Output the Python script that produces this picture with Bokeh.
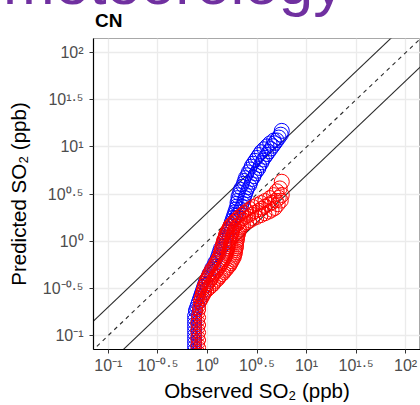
from bokeh.plotting import figure
from bokeh.models import FixedTicker, Range1d, ColumnDataSource, Div
from bokeh.layouts import column
from bokeh.embed import file_html
from bokeh.resources import INLINE

# ---------------- data (log10 ppb) ----------------
tick_exps = [-1, -0.5, 0, 0.5, 1, 1.5, 2]
tick_exp_labels = ["-1", "-0.5", "0", "0.5", "1", "1.5", "2"]
axis_lim_exp = [-1.15, 2.15]
ref_ratios = [2.0, 1.0, 0.5]          # predicted = ratio * observed
ref_dashes = ["solid", "4 4", "solid"]

title_text = "CN"
x_title = "Observed SO₂ (ppb)"
y_title = "Predicted SO₂ (ppb)"
banner_text = "meteorology"

# blue series: (log10 observed, log10 predicted)
blue_points = [
    (-0.15, -1.19), (-0.11, -1.17), (-0.15, -1.15), (-0.11, -1.13), (-0.15, -1.11), (-0.11, -1.09),
    (-0.15, -1.07), (-0.11, -1.05), (-0.15, -1.03), (-0.11, -1.01), (-0.15, -0.99), (-0.11, -0.97),
    (-0.15, -0.95), (-0.11, -0.93), (-0.15, -0.91), (-0.11, -0.89), (-0.15, -0.87), (-0.11, -0.85),
    (-0.15, -0.83), (-0.11, -0.81), (-0.15, -0.79), (-0.11, -0.77), (-0.14, -0.75),
    (-0.14, -0.73), (-0.10, -0.73), (-0.13, -0.70), (-0.12, -0.67), (-0.08, -0.67), (-0.11, -0.64),
    (-0.10, -0.61), (-0.06, -0.61), (-0.09, -0.58), (-0.08, -0.55), (-0.04, -0.55), (-0.07, -0.52),
    (-0.06, -0.49), (-0.02, -0.49), (-0.05, -0.46), (-0.04, -0.43), (0.00, -0.43), (-0.02, -0.40),
    (-0.01, -0.37), (0.03, -0.37), (0.00, -0.34), (0.02, -0.31), (0.05, -0.31), (0.03, -0.28),
    (0.05, -0.25), (0.08, -0.25), (0.06, -0.22), (0.08, -0.19), (0.10, -0.19), (0.09, -0.16),
    (0.10, -0.13), (0.13, -0.13), (0.11, -0.10), (0.12, -0.07), (0.15, -0.07), (0.14, -0.04),
    (0.15, -0.01), (0.18, -0.01), (0.16, 0.02), (0.17, 0.05), (0.21, 0.05), (0.19, 0.08),
    (0.20, 0.11), (0.23, 0.11), (0.21, 0.14), (0.22, 0.17), (0.25, 0.17), (0.23, 0.20),
    (0.24, 0.23), (0.27, 0.23), (0.25, 0.26), (0.29, 0.26), (0.26, 0.29), (0.30, 0.29),
    (0.27, 0.32), (0.32, 0.32), (0.28, 0.35), (0.33, 0.35), (0.29, 0.38), (0.35, 0.38),
    (0.29, 0.41), (0.36, 0.41), (0.30, 0.44), (0.37, 0.44), (0.30, 0.47), (0.38, 0.47),
    (0.31, 0.50), (0.39, 0.50), (0.32, 0.53), (0.40, 0.53), (0.33, 0.56), (0.41, 0.56),
    (0.35, 0.59), (0.43, 0.59), (0.36, 0.62), (0.44, 0.62), (0.37, 0.65), (0.45, 0.65),
    (0.38, 0.68), (0.47, 0.68), (0.40, 0.71), (0.48, 0.71), (0.41, 0.74), (0.50, 0.74),
    (0.43, 0.77), (0.52, 0.77), (0.44, 0.80), (0.53, 0.80), (0.46, 0.83), (0.55, 0.83),
    (0.48, 0.86), (0.56, 0.86), (0.50, 0.89), (0.58, 0.89), (0.52, 0.92), (0.60, 0.92),
    (0.54, 0.95), (0.62, 0.95), (0.57, 0.98), (0.64, 0.98), (0.60, 1.01), (0.66, 1.01),
    (0.63, 1.04), (0.68, 1.04), (0.67, 1.07), (0.70, 1.07), (0.72, 1.10), (0.74, 1.13),
    (0.75, 1.17),
]

# red series: (log10 observed, log10 predicted)
red_points = [
    (-0.12, -1.19), (-0.08, -1.17), (-0.11, -1.15), (-0.07, -1.13), (-0.12, -1.11), (-0.08, -1.09),
    (-0.11, -1.07), (-0.07, -1.05), (-0.12, -1.03), (-0.08, -1.01), (-0.11, -0.99), (-0.07, -0.97),
    (-0.12, -0.95), (-0.08, -0.93), (-0.11, -0.91), (-0.07, -0.89), (-0.12, -0.87), (-0.08, -0.85),
    (-0.11, -0.83), (-0.07, -0.81), (-0.11, -0.79), (-0.08, -0.77), (-0.10, -0.75), (-0.07, -0.73),
    (-0.10, -0.71), (-0.07, -0.69), (-0.09, -0.67), (-0.06, -0.65),
    (-0.09, -0.63), (-0.05, -0.63), (-0.08, -0.61), (-0.04, -0.61), (-0.08, -0.59), (-0.03, -0.59),
    (-0.07, -0.57), (-0.02, -0.57), (-0.07, -0.55), (-0.01, -0.55), (-0.06, -0.53), (0.01, -0.53),
    (-0.06, -0.51), (0.03, -0.51),
    (-0.05, -0.49), (0.00, -0.49), (0.05, -0.49), (-0.05, -0.47), (0.01, -0.47), (0.07, -0.47),
    (-0.04, -0.45), (0.02, -0.45), (0.08, -0.45), (-0.03, -0.43), (0.04, -0.43), (0.10, -0.43),
    (-0.03, -0.41), (0.05, -0.41), (0.12, -0.41), (-0.02, -0.39), (0.06, -0.39), (0.13, -0.39),
    (-0.01, -0.37), (0.07, -0.37), (0.15, -0.37), (0.00, -0.35), (0.08, -0.35), (0.17, -0.35),
    (0.01, -0.33), (0.10, -0.33), (0.18, -0.33), (0.02, -0.31), (0.11, -0.31), (0.20, -0.31),
    (0.03, -0.29), (0.12, -0.29), (0.21, -0.29), (0.05, -0.27), (0.14, -0.27), (0.23, -0.27),
    (0.06, -0.25), (0.15, -0.25), (0.24, -0.25), (0.07, -0.23), (0.16, -0.23), (0.25, -0.23),
    (0.08, -0.21), (0.17, -0.21), (0.26, -0.21), (0.09, -0.19), (0.18, -0.19), (0.27, -0.19),
    (0.10, -0.17), (0.19, -0.17), (0.28, -0.17), (0.11, -0.15), (0.20, -0.15), (0.28, -0.15),
    (0.12, -0.13), (0.20, -0.13), (0.29, -0.13), (0.12, -0.11), (0.21, -0.11), (0.29, -0.11),
    (0.13, -0.09), (0.21, -0.09), (0.29, -0.09), (0.13, -0.07), (0.22, -0.07), (0.30, -0.07),
    (0.14, -0.05), (0.22, -0.05), (0.30, -0.05), (0.14, -0.03), (0.22, -0.03), (0.30, -0.03),
    (0.15, -0.01), (0.23, -0.01), (0.30, -0.01), (0.15, 0.01), (0.23, 0.01), (0.31, 0.01),
    (0.16, 0.03), (0.24, 0.03), (0.31, 0.03), (0.17, 0.05), (0.24, 0.05), (0.31, 0.05),
    (0.17, 0.07), (0.25, 0.07), (0.32, 0.07), (0.18, 0.09), (0.26, 0.09), (0.32, 0.09),
    (0.19, 0.11), (0.26, 0.11), (0.33, 0.11), (0.20, 0.13), (0.27, 0.13), (0.33, 0.13),
    (0.21, 0.15), (0.28, 0.15), (0.35, 0.15), (0.22, 0.17), (0.30, 0.17), (0.37, 0.17),
    (0.24, 0.19), (0.32, 0.19), (0.40, 0.19), (0.26, 0.21), (0.34, 0.21), (0.43, 0.21),
    (0.28, 0.23), (0.36, 0.23), (0.46, 0.23), (0.30, 0.25), (0.39, 0.25), (0.50, 0.25),
    (0.32, 0.27), (0.42, 0.27), (0.54, 0.27), (0.35, 0.29), (0.45, 0.29), (0.58, 0.29),
    (0.37, 0.31), (0.48, 0.31), (0.62, 0.31), (0.40, 0.33), (0.52, 0.33), (0.65, 0.33),
    (0.43, 0.35), (0.55, 0.35), (0.68, 0.35), (0.46, 0.37), (0.58, 0.37),
    (0.50, 0.39), (0.62, 0.39), (0.71, 0.39), (0.54, 0.41), (0.65, 0.41),
    (0.58, 0.43), (0.69, 0.43), (0.74, 0.43), (0.63, 0.46), (0.72, 0.46),
    (0.67, 0.49), (0.75, 0.49), (0.70, 0.53), (0.73, 0.56), (0.75, 0.63),
]

series = [("blue", blue_points), ("red", red_points)]

FONT = "Liberation Sans"
SUP = str.maketrans("0123456789-.", "⁰¹²³⁴⁵⁶⁷⁸⁹⁻·")
HEAD_H = 37

# heading strip: slide heading peeking in at the top plus the panel title
head = Div(
    text=(
        f'<div style="position:relative;width:420px;height:{HEAD_H}px;overflow:hidden;background:white;">'
        f'<span style="position:absolute;left:3px;top:-48.5px;font-family:\'{FONT}\';font-size:62px;'
        f'line-height:62px;color:#7030A0;white-space:nowrap;">{banner_text}</span>'
        f'<span style="position:absolute;left:95px;top:11px;font-family:\'{FONT}\';font-size:19px;'
        f'line-height:19px;font-weight:bold;color:black;white-space:nowrap;">{title_text}</span>'
        '</div>'
    ),
    width=420, height=HEAD_H, margin=0,
)

lo, hi = (10 ** e for e in axis_lim_exp)
p = figure(width=420, height=405 - HEAD_H, x_axis_type="log", y_axis_type="log",
           x_range=Range1d(lo, hi), y_range=Range1d(lo, hi),
           min_border_left=93, min_border_right=0, min_border_top=1, min_border_bottom=56,
           output_backend="svg", toolbar_location=None, margin=0)
p.background_fill_color = "white"
p.border_fill_color = "white"
p.outline_line_color = "#A8A8A8"
p.outline_line_width = 1

ticks = [10 ** e for e in tick_exps]
overrides = {t: "10" + lab.translate(SUP) for t, lab in zip(ticks, tick_exp_labels)}
for ax in (p.xaxis[0], p.yaxis[0]):
    ax.ticker = FixedTicker(ticks=ticks, minor_ticks=[])
    ax.major_label_overrides = overrides
    ax.major_label_text_font = FONT
    ax.major_label_text_font_size = "16px"
    ax.major_label_text_color = "#4D4D4D"
    ax.axis_line_color = "black"
    ax.axis_line_width = 1.2
    ax.major_tick_line_color = "#333333"
    ax.major_tick_line_width = 1
    ax.major_tick_out = 4
    ax.major_tick_in = 0
    ax.minor_tick_line_color = None
    ax.axis_label_text_font = FONT
    ax.axis_label_text_font_size = "20.5px"
    ax.axis_label_text_font_style = "normal"
    ax.axis_label_text_color = "black"
p.xaxis[0].axis_label = x_title
p.yaxis[0].axis_label = y_title
p.xaxis[0].major_label_standoff = 3
p.xaxis[0].axis_label_standoff = 2
p.yaxis[0].major_label_standoff = 6
p.yaxis[0].axis_label_standoff = 10

for g in (p.xgrid[0], p.ygrid[0]):
    g.grid_line_color = "#EBEBEB"
    g.grid_line_width = 1.3

# reference lines
ext = [10 ** (axis_lim_exp[0] - 0.2), 10 ** (axis_lim_exp[1] + 0.2)]
for r, d in zip(ref_ratios, ref_dashes):
    p.line(ext, [r * v for v in ext], line_color="#2b2b2b", line_width=1.1, line_dash=d)

# points
for color, pts in series:
    lx = [a for a, b in pts]
    ly = [b for a, b in pts]
    sizes = [10 + 5 * min(max((a + 0.1) / 0.85, 0), 1) for a in lx]
    src = ColumnDataSource(dict(x=[10 ** a for a in lx], y=[10 ** b for b in ly], s=sizes))
    p.scatter("x", "y", source=src, marker="circle", size="s", fill_color=None,
              line_color=color, line_width=1)

layout = column(head, p, spacing=0)
open("out.html", "w").write(file_html(layout, INLINE))
